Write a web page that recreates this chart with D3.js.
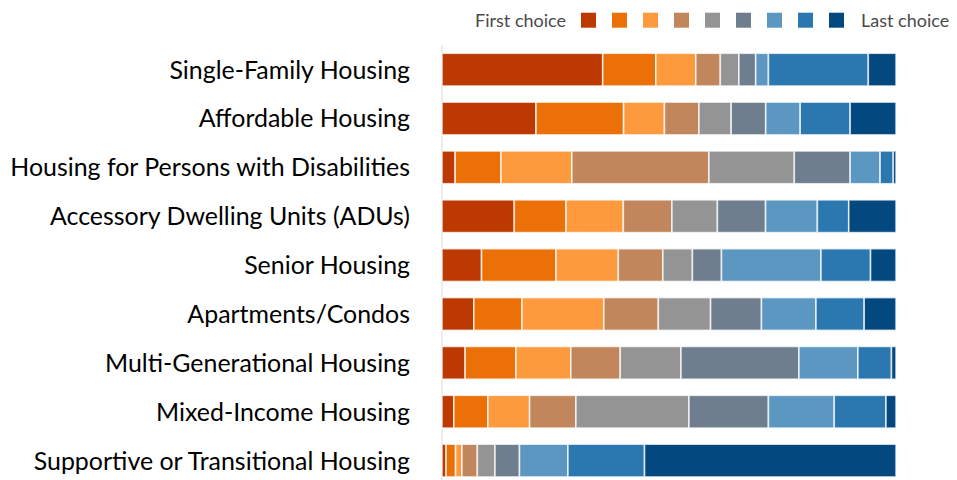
<!DOCTYPE html>
<html>
<head>
<meta charset="utf-8">
<script src="https://cdn.jsdelivr.net/npm/d3@7"></script>
<style>
  html, body { margin: 0; padding: 0; background: #fff; }
  svg { display: block; }
</style>
</head>
<body>
<svg id="chart" width="957" height="480"></svg>
<script>
// Housing types, ranked from first choice to last choice (share of responses, %)
const categories = [
  "Single-Family Housing",
  "Affordable Housing",
  "Housing for Persons with Disabilities",
  "Accessory Dwelling Units (ADUs)",
  "Senior Housing",
  "Apartments/Condos",
  "Multi-Generational Housing",
  "Mixed-Income Housing",
  "Supportive or Transitional Housing"
];

const ranks = ["1", "2", "3", "4", "5", "6", "7", "8", "9"];

const rank1 = [35.4, 20.7,  2.9, 15.9,  8.7,  7.0,  5.1,  2.6,  0.9];
const rank2 = [11.7, 19.3, 10.1, 11.4, 16.4, 10.6, 11.2,  7.5,  2.1];
const rank3 = [ 8.8,  9.0, 15.6, 12.6, 13.7, 18.0, 12.1,  9.2,  1.4];
const rank4 = [ 5.4,  7.6, 30.2, 10.7,  9.8, 12.0, 10.9, 10.2,  3.4];
const rank5 = [ 4.1,  7.1, 18.8, 10.0,  6.5, 11.5, 13.4, 24.9,  3.9];
const rank6 = [ 3.7,  7.6, 12.3, 10.6,  6.4, 11.2, 26.0, 17.5,  5.4];
const rank7 = [ 2.8,  7.6,  6.6, 11.4, 21.9, 12.0, 13.0, 14.5, 10.7];
const rank8 = [22.0, 11.0,  2.9,  6.9, 10.9, 10.6,  7.4, 11.4, 16.9];
const rank9 = [ 6.1, 10.1,  0.6, 10.4,  5.6,  7.0,  1.0,  2.2, 55.5];

const legendLeft = "First choice";
const legendRight = "Last choice";

const colors = ["#bc3a02", "#ec7008", "#fe9a3e", "#c2865c", "#949494",
                "#6f7e8e", "#5b97c0", "#2b78b0", "#03487f"];

const series = [rank1, rank2, rank3, rank4, rank5, rank6, rank7, rank8, rank9];
const rows = categories.map((c, i) => {
  const r = { category: c };
  ranks.forEach((k, j) => { r[k] = series[j][i]; });
  return r;
});

const svg = d3.select("#chart");
const margin = { left: 442, right: 61, top: 45, bottom: 0 };
const width = 957, height = 480;

const x = d3.scaleLinear()
  .domain([0, 1])
  .range([margin.left, width - margin.right]);

const y = d3.scaleBand()
  .domain(categories)
  .range([45.2, 485.0])
  .paddingInner(0.33)
  .paddingOuter(0.165);

const color = d3.scaleOrdinal().domain(ranks).range(colors);

// each row is normalised to 100%
const stacked = d3.stack().keys(ranks)
  .offset(d3.stackOffsetExpand)(rows);

// thin axis line on the left of the bars
svg.append("line")
  .attr("x1", margin.left).attr("x2", margin.left)
  .attr("y1", 45).attr("y2", 480)
  .attr("stroke", "#d9d9d9").attr("stroke-width", 1);

svg.append("g")
  .selectAll("g")
  .data(stacked)
  .join("g")
  .attr("fill", d => color(d.key))
  .selectAll("rect")
  .data(d => d)
  .join("rect")
  .attr("x", d => x(d[0]))
  .attr("width", d => Math.max(0, x(d[1]) - x(d[0])))
  .attr("y", d => y(d.data.category))
  .attr("height", y.bandwidth())
  .attr("stroke", "#ffffff")
  .attr("stroke-opacity", 0.75)
  .attr("stroke-width", 1.6);

// category labels
const yAxis = d3.axisLeft(y).tickSize(0).tickPadding(0);
const gy = svg.append("g")
  .attr("transform", `translate(${410},0)`)
  .call(yAxis);
gy.select(".domain").remove();
gy.selectAll("text")
  .attr("fill", "#000")
  .attr("font-family", "Lato, 'Open Sans', sans-serif")
  .attr("font-size", 24)
  .attr("dy", "0.36em");

// fit the longest label into the space on the left
let maxW = 0;
gy.selectAll("text").each(function () { maxW = Math.max(maxW, this.getComputedTextLength()); });
const fs = 24 * 400 / maxW;
gy.selectAll("text").attr("font-size", fs);

// legend
const lg = svg.append("g").attr("font-family", "Lato, 'Open Sans', sans-serif")
  .attr("font-size", 18).attr("fill", "#4a4a4a");
const sq = 15, step = 31, sx = 581, sy = 12.7;
lg.selectAll("rect")
  .data(ranks)
  .join("rect")
  .attr("x", (d, i) => sx + i * step)
  .attr("y", sy)
  .attr("width", sq).attr("height", sq)
  .attr("fill", d => color(d));
lg.append("text")
  .attr("x", 566).attr("y", sy + sq / 2).attr("dy", "0.36em")
  .attr("text-anchor", "end")
  .text(legendLeft);
lg.append("text")
  .attr("x", 861).attr("y", sy + sq / 2).attr("dy", "0.36em")
  .attr("text-anchor", "start")
  .text(legendRight);
</script>
</body>
</html>
